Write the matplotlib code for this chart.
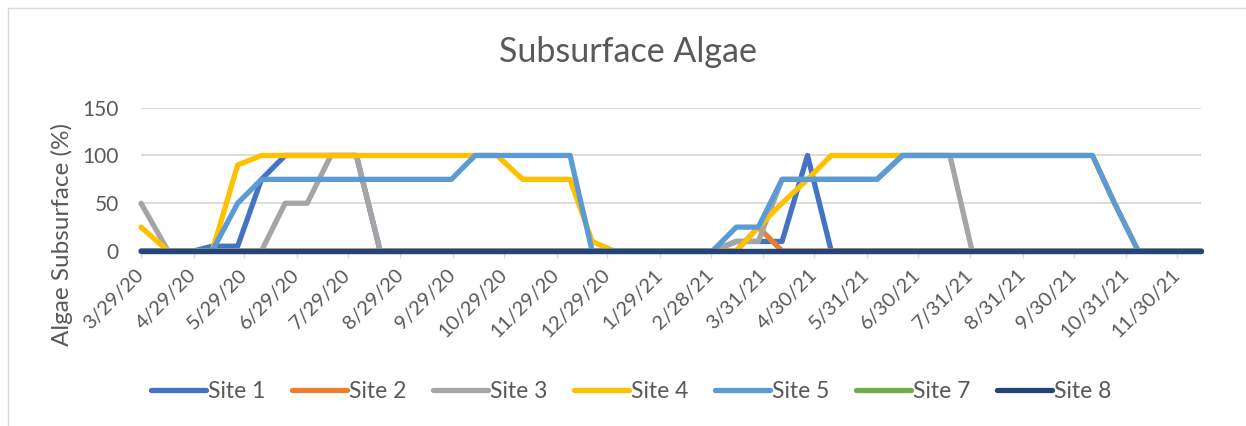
"""Subsurface algae line chart (Excel style)."""

import matplotlib

matplotlib.use("Agg")

import matplotlib.pyplot as plt
import pandas as pd
from matplotlib.patches import Rectangle

sample_dates = [
    "2020-03-29", "2020-04-14", "2020-04-29", "2020-05-10", "2020-05-25",
    "2020-06-08", "2020-06-22", "2020-07-05", "2020-07-19", "2020-08-03",
    "2020-08-17", "2020-08-31", "2020-09-14", "2020-09-28", "2020-10-12",
    "2020-10-25", "2020-11-09", "2020-11-23", "2020-12-07", "2020-12-20",
    "2021-01-02", "2021-01-16", "2021-01-30", "2021-02-13", "2021-03-01",
    "2021-03-15", "2021-03-28", "2021-04-11", "2021-04-26", "2021-05-10",
    "2021-05-24", "2021-06-06", "2021-06-21", "2021-07-05", "2021-07-19",
    "2021-08-01", "2021-08-15", "2021-08-29", "2021-09-12", "2021-09-26",
    "2021-10-11", "2021-10-24", "2021-11-07", "2021-11-21", "2021-12-05",
    "2021-12-14",
]

site1 = [0, 0, 0, 5, 5, 75, 100, 100, 100, 100,
         0, 0, 0, 0, 0, 0, 0, 0, 0, 0,
         0, 0, 0, 0, 0, 10, 10, 10, 100, 0,
         0, 0, 0, 0, 0, 0, 0, 0, 0, 0,
         0, 0, 0, 0, 0, 0]
site2 = [0, 0, 0, 0, 0, 0, 0, 0, 0, 0,
         0, 0, 0, 0, 0, 0, 0, 0, 0, 0,
         0, 0, 0, 0, 0, 0, 25, 0, 0, 0,
         0, 0, 0, 0, 0, 0, 0, 0, 0, 0,
         0, 0, 0, 0, 0, 0]
site3 = [50, 0, 0, 0, 0, 0, 50, 50, 100, 100,
         0, 0, 0, 0, 0, 0, 0, 0, 0, 0,
         0, 0, 0, 0, 0, 10, 10, 75, 75, 75,
         75, 75, 100, 100, 100, 0, 0, 0, 0, 0,
         0, 0, 0, 0, 0, 0]
site4 = [25, 0, 0, 0, 90, 100, 100, 100, 100, 100,
         100, 100, 100, 100, 100, 100, 75, 75, 75, 10,
         0, 0, 0, 0, 0, 0, 25, 50, 75, 100,
         100, 100, 100, 100, 100, 100, 100, 100, 100, 100,
         100, 50, 0, 0, 0, 0]
site5 = [0, 0, 0, 0, 50, 75, 75, 75, 75, 75,
         75, 75, 75, 75, 100, 100, 100, 100, 100, 0,
         0, 0, 0, 0, 0, 25, 25, 75, 75, 75,
         75, 75, 100, 100, 100, 100, 100, 100, 100, 100,
         100, 50, 0, 0, 0, 0]
site7 = [0] * 46
site8 = [0] * 46

series_names = ["Site 1", "Site 2", "Site 3", "Site 4", "Site 5", "Site 7", "Site 8"]
series_values = [site1, site2, site3, site4, site5, site7, site8]
colors = ["#4472C4", "#ED7D31", "#A5A5A5", "#FFC000", "#5B9BD5", "#70AD47", "#264478"]

tick_dates = [
    "2020-03-29", "2020-04-29", "2020-05-29", "2020-06-29", "2020-07-29",
    "2020-08-29", "2020-09-29", "2020-10-29", "2020-11-29", "2020-12-29",
    "2021-01-29", "2021-02-28", "2021-03-31", "2021-04-30", "2021-05-31",
    "2021-06-30", "2021-07-31", "2021-08-31", "2021-09-30", "2021-10-31",
    "2021-11-30",
]
y_ticks = [0, 50, 100, 150]

TEXT = "#595959"
GRID = "#D9D9D9"

plt.rcParams["font.family"] = ["Lato", "DejaVu Sans"]

dates = pd.to_datetime(sample_dates)
ticks = pd.to_datetime(tick_dates)
tick_labels = [f"{d.month}/{d.day}/{d.year % 100}" for d in ticks]

fig = plt.figure(figsize=(12.46, 4.26), dpi=100)
fig.patches.append(Rectangle((8 / 1246, -0.1), 1.2, 1.1 - 8 / 426, transform=fig.transFigure,
                             fill=False, edgecolor=GRID, linewidth=1.0))

ax = fig.add_axes([141 / 1246, 1 - 251 / 426, (1201 - 141) / 1246, (251 - 107.7) / 426])

for name, vals, c in zip(series_names, series_values, colors):
    ax.plot(dates, vals, color=c, lw=3.8, label=name,
            solid_capstyle="round", solid_joinstyle="round", clip_on=False)

ax.set_ylim(0, 150)
ax.set_yticks(y_ticks)
ax.set_xlim(dates[0], dates[-1])
ax.set_xticks(ticks)
ax.set_xticklabels(tick_labels, rotation=45, ha="right", va="center",
                   rotation_mode="anchor")

ax.grid(axis="y", color=GRID, lw=1.3)
ax.set_axisbelow(True)
for s in ["top", "right", "left", "bottom"]:
    ax.spines[s].set_visible(False)
ax.tick_params(axis="y", length=0, pad=16, labelsize=15, labelcolor=TEXT)
ax.tick_params(axis="x", length=5, width=1, color=GRID, pad=10, labelsize=14.5, labelcolor=TEXT)

fig.text(628 / 1246, 1 - 52 / 426, "Subsurface Algae", ha="center", va="center",
         fontsize=24.5, color=TEXT)
fig.text(62 / 1246, 1 - 234 / 426, "Algae Subsurface (%)", ha="center", va="center",
         rotation=90, fontsize=17.5, color=TEXT)

fig.legend(loc="center", bbox_to_anchor=(631 / 1246, 1 - 392 / 426), ncol=7, frameon=False,
           fontsize=16.5, labelcolor=TEXT, handlelength=2.4, handletextpad=0.1,
           columnspacing=1.15)

fig.savefig("out.png", dpi=100)
